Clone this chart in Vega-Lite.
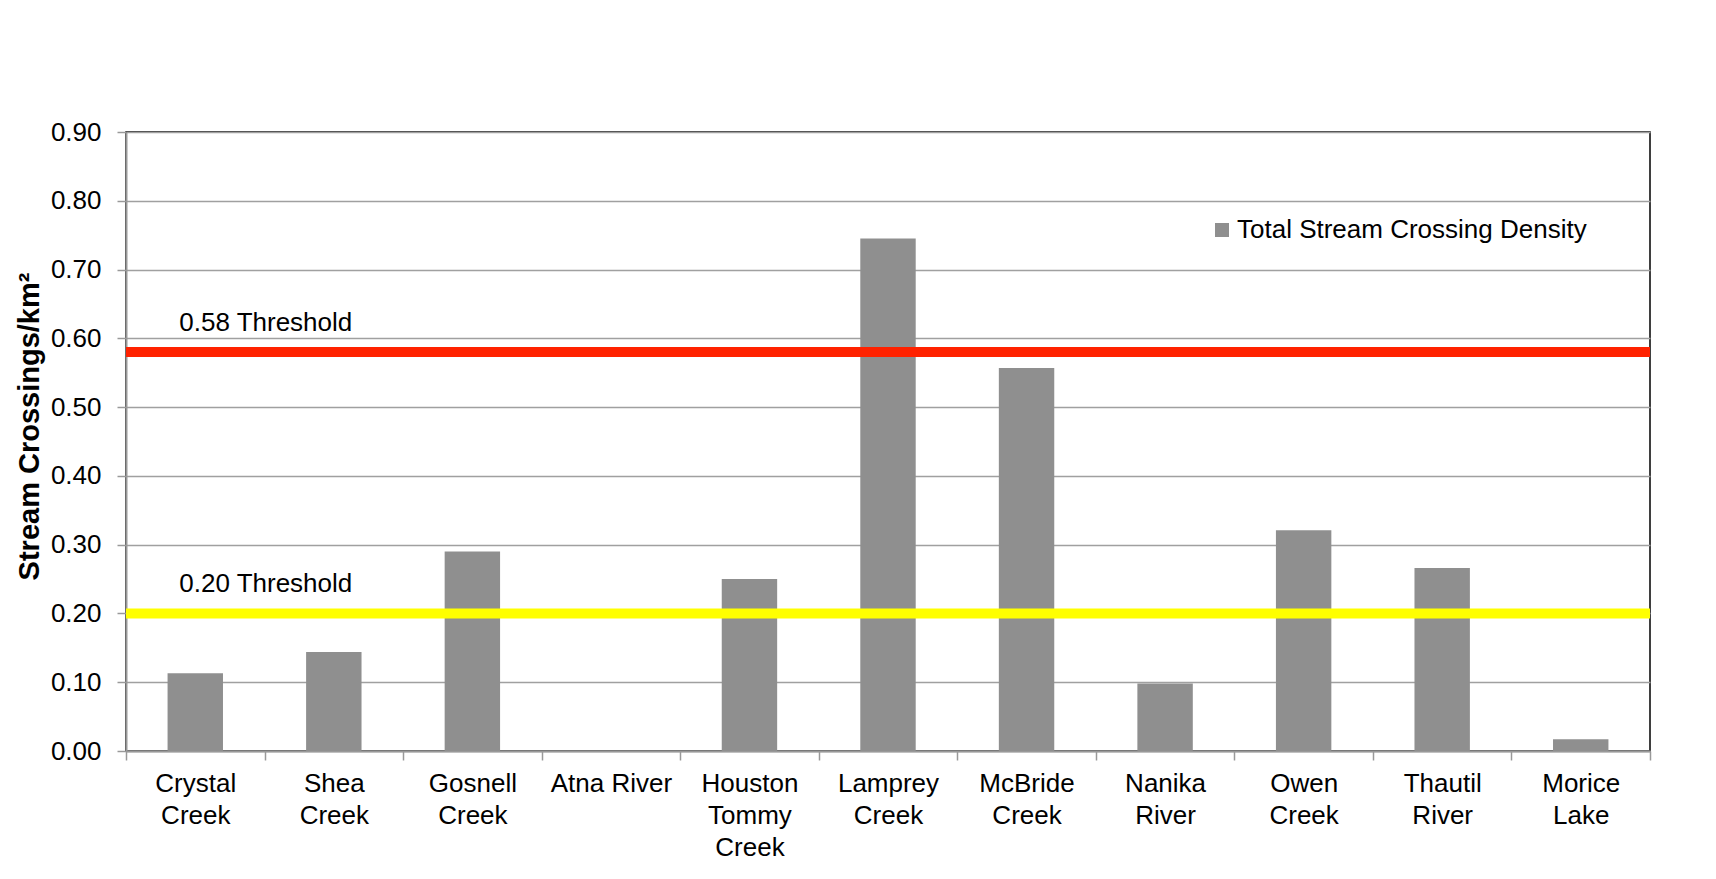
{
  "$schema": "https://vega.github.io/schema/vega-lite/v6.json",
  "width": 1524,
  "height": 619,
  "autosize": {"type": "none"},
  "padding": {"left": 126, "top": 132, "right": 66, "bottom": 128},
  "background": "#ffffff",
  "datasets": {
    "sites": [
      {"site": "Crystal Creek", "density": 0.113},
      {"site": "Shea Creek", "density": 0.144},
      {"site": "Gosnell Creek", "density": 0.29},
      {"site": "Atna River", "density": 0.0},
      {"site": "Houston Tommy Creek", "density": 0.25},
      {"site": "Lamprey Creek", "density": 0.745},
      {"site": "McBride Creek", "density": 0.557},
      {"site": "Nanika River", "density": 0.098},
      {"site": "Owen Creek", "density": 0.321},
      {"site": "Thautil River", "density": 0.266},
      {"site": "Morice Lake", "density": 0.017}
    ],
    "thresholds": [
      {"value": 0.58, "label": "0.58 Threshold"},
      {"value": 0.2, "label": "0.20 Threshold"}
    ]
  },
  "config": {
    "font": "Liberation Sans",
    "view": {"stroke": "#000000", "strokeWidth": 1.5},
    "axis": {
      "labelFont": "Liberation Sans",
      "labelFontSize": 26,
      "labelColor": "#000000",
      "titleFont": "Liberation Sans",
      "titleColor": "#000000",
      "domainColor": "#999999",
      "domainWidth": 2,
      "tickColor": "#999999",
      "tickWidth": 1.5,
      "gridColor": "#a0a0a0",
      "gridWidth": 1.5
    }
  },
  "layer": [
    {
      "data": {"name": "sites"},
      "mark": {"type": "bar", "width": {"band": 0.4}, "color": "#8f8f8f"},
      "encoding": {
        "x": {
          "field": "site",
          "type": "nominal",
          "sort": null,
          "scale": {"paddingInner": 0, "paddingOuter": 0},
          "axis": {
            "title": null,
            "labelAngle": 0,
            "bandPosition": 0,
            "tickBand": "extent",
            "tickSize": 9,
            "labelPadding": 10,
            "labelBaseline": "top",
            "labelLineHeight": 32,
            "labelExpr": "datum.label == 'Atna River' ? 'Atna River' : split(datum.label, ' ')",
            "grid": false
          }
        },
        "y": {
          "field": "density",
          "type": "quantitative",
          "scale": {"domain": [0, 0.9], "nice": false},
          "axis": {
            "title": "Stream Crossings/km²",
            "titleFontSize": 29,
            "titleFontWeight": "bold",
            "titleAngle": -90,
            "titleX": -97,
            "titleY": 294,
            "titleAlign": "center",
            "titleBaseline": "middle",
            "values": [0, 0.1, 0.2, 0.3, 0.4, 0.5, 0.6, 0.7, 0.8, 0.9],
            "format": ".2f",
            "tickSize": 9,
            "labelPadding": 16,
            "grid": true
          }
        },
        "color": {
          "datum": "Total Stream Crossing Density",
          "type": "nominal",
          "scale": {"range": ["#8f8f8f"]},
          "legend": {
            "title": null,
            "orient": "none",
            "legendX": 1083,
            "legendY": 85,
            "padding": 0,
            "symbolType": "square",
            "symbolSize": 196,
            "symbolStrokeWidth": 0,
            "labelFont": "Liberation Sans",
            "labelFontSize": 26,
            "labelColor": "#000000",
            "labelOffset": 2,
            "labelLimit": 0
          }
        }
      }
    },
    {
      "data": {"name": "thresholds"},
      "mark": {"type": "rule", "strokeWidth": 10},
      "encoding": {
        "y": {"field": "value", "type": "quantitative"},
        "color": {
          "field": "label",
          "type": "nominal",
          "scale": {"domain": ["0.58 Threshold", "0.20 Threshold"], "range": ["#ff2200", "#ffff00"]},
          "legend": null
        }
      }
    },
    {
      "data": {"name": "thresholds"},
      "mark": {"type": "text", "align": "left", "baseline": "alphabetic", "fontSize": 26, "color": "#000000", "dx": -16, "dy": -21},
      "encoding": {
        "x": {"datum": "Crystal Creek"},
        "y": {"field": "value", "type": "quantitative"},
        "text": {"field": "label"}
      }
    }
  ],
  "resolve": {"scale": {"color": "independent"}}
}
